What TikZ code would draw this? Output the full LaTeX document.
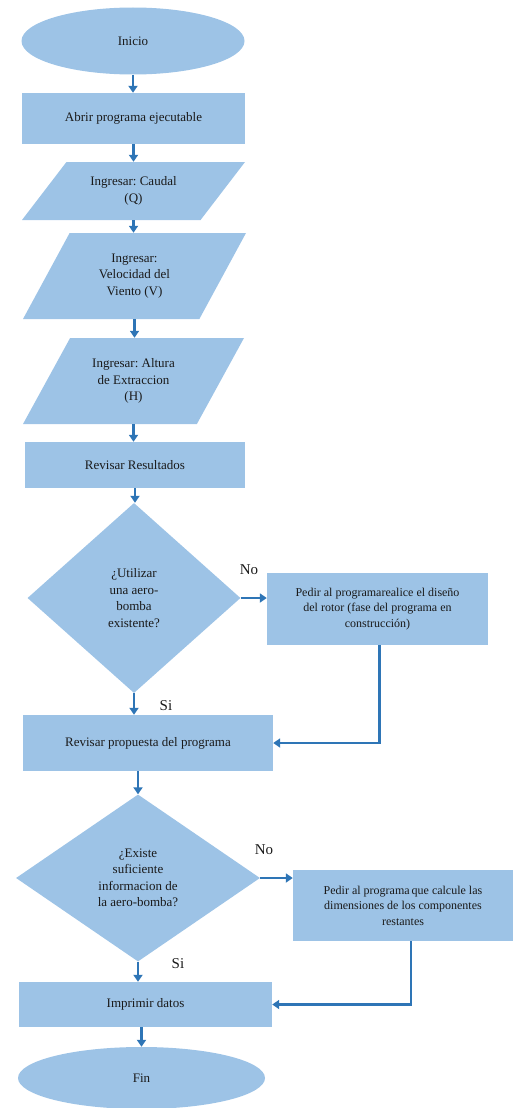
\documentclass[tikz,border=0pt]{standalone}
\usepackage{fontspec}
\setmainfont{Liberation Serif}
\frenchspacing
\usetikzlibrary{shapes.geometric,arrows.meta}
\definecolor{boxfill}{HTML}{9DC3E6}
\definecolor{flow}{HTML}{2E75B6}
\definecolor{ink}{HTML}{1A1A1A}
\tikzset{
  base/.style={fill=boxfill, draw=none, text=ink, align=center, inner sep=2pt, font=\fontsize{13}{16.5}\selectfont},
  term/.style={base, ellipse},
  proc/.style={base, rectangle},
  procs/.style={base, rectangle, font=\fontsize{12}{15.5}\selectfont},
  io/.style 2 args={base, trapezium, trapezium stretches body, trapezium left angle=#1, trapezium right angle=#2},
  dec/.style={base, diamond},
  arr/.style={draw=flow, line width=2.4pt, -{Triangle[length=7pt,width=9pt]}},
  lab/.style={text=ink, font=\fontsize{15}{17}\selectfont},
}
\begin{document}
\begin{tikzpicture}[x=1pt,y=-1pt]
  \useasboundingbox (0,0) rectangle (513,1108);
  % main column
  \node[term, minimum width=223pt, minimum height=67pt] (inicio) at (133,41) {Inicio};
  \node[proc, minimum width=223pt, minimum height=51pt] (abrir) at (133.5,118.5) {Abrir programa ejecutable};
  \node[io={36}{144}, minimum width=223pt, minimum height=58pt] (caudal) at (133.5,191) {Ingresar: Caudal\\(Q)};
  \node[io={46}{134}, minimum width=223pt, minimum height=86pt] (viento) at (134.5,276) {Ingresar:\\Velocidad del\\Viento (V)};
  \node[io={46}{134}, minimum width=221pt, minimum height=86pt] (altura) at (133.5,381) {Ingresar: Altura\\de Extraccion\\(H)};
  \node[proc, minimum width=220pt, minimum height=46pt] (resultados) at (135,465) {Revisar Resultados};
  \node[dec, minimum width=213pt, minimum height=190pt] (utilizar) at (134,598) {¿Utilizar\\una aero-\\bomba\\existente?};
  \node[proc, minimum width=250pt, minimum height=56pt] (propuesta) at (148,743) {Revisar propuesta del programa};
  \node[dec, minimum width=244pt, minimum height=167pt] (existe) at (138,878) {¿Existe\\suficiente\\informacion de\\la aero-bomba?};
  \node[proc, minimum width=253pt, minimum height=45pt] (imprimir) at (145.5,1004.5) {Imprimir datos};
  \node[term, minimum width=247pt, minimum height=62pt] (fin) at (141.5,1078) {Fin};
  % side boxes
  \node[procs, minimum width=221pt, minimum height=72pt] (rotor) at (377.5,609) {Pedir al programarealice el diseño\\del rotor (fase del programa en\\construcción)};
  \node[procs, minimum width=220pt, minimum height=71pt] (restantes) at (403,905.5) {Pedir al programa\,que calcule las\\dimensiones de los componentes\\restantes};
  % answers
  \node[lab] (no1) at (249,570) {No};
  \node[lab] (si1) at (166,706) {Si};
  \node[lab] (no2) at (264,850) {No};
  \node[lab] (si2) at (178,964) {Si};
  % connectors
  \foreach \a/\b in {inicio/abrir, abrir/caudal, caudal/viento, viento/altura, altura/resultados, resultados/utilizar}
    \draw[arr] (\a.south) -- (\a.south |- \b.north);
  \draw[arr] (utilizar.south) -- (utilizar.south |- propuesta.north);
  \draw[arr] (utilizar.east) -- (utilizar.east -| rotor.west);
  \draw[arr] ([xshift=2pt]rotor.south) |- (propuesta.east);
  \draw[arr] (existe.north |- propuesta.south) -- (existe.north);
  \draw[arr] (existe.east) -- (existe.east -| restantes.west);
  \draw[arr] (existe.south) -- (existe.south |- imprimir.north);
  \draw[arr] ([xshift=8pt]restantes.south) |- (imprimir.east);
  \draw[arr] (fin.north |- imprimir.south) -- (fin.north);
\end{tikzpicture}
\end{document}
